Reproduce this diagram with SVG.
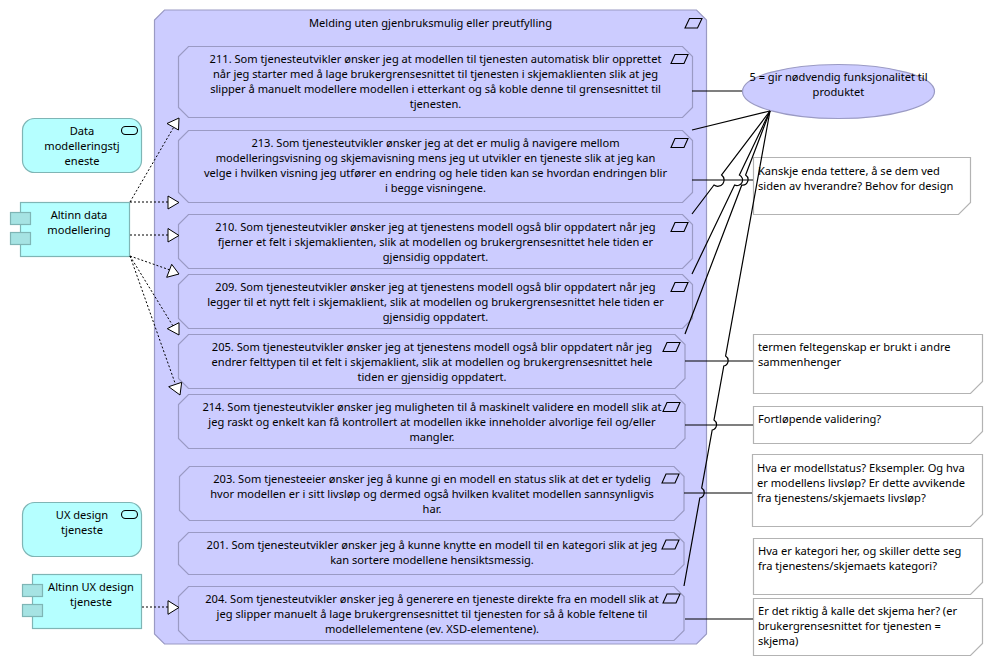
<svg xmlns="http://www.w3.org/2000/svg" width="993" height="666" viewBox="0 0 993 666">
<style>
text{font-family:"Noto Sans","Open Sans","Liberation Sans",sans-serif;font-size:11.1px;fill:#000;text-anchor:middle}
.l{text-anchor:start}
.c{fill:#ccccff;stroke:#9a9ac4;stroke-width:1.2}
.a{fill:#b5ffff;stroke:#7fb5b5;stroke-width:1.2}
.s{fill:#a6e3e3;stroke:#7fb5b5;stroke-width:1.2}
.n{fill:#fff;stroke:#b3b3b3;stroke-width:1.2}
.i{fill:none;stroke:#000;stroke-width:1.1}
.k{fill:none;stroke:#000;stroke-width:1.2}
.d{fill:none;stroke:#000;stroke-width:1;stroke-dasharray:2 2}
.t{fill:#fff;stroke:#000;stroke-width:1}
</style>
<g id="container"><path class="c" d="M164.500 10H696.500L706.500 20V634L696.500 644H164.500L154.500 634V20Z"/><path class="i" d="M685 28L689.500 18.500H702L697.500 28Z"/><text x="430.500" y="27">Melding uten gjenbruksmulig eller preutfylling</text></g>
<g id="n211"><path class="c" d="M188.500 46.500H682.500L692.500 56.500V107.500L682.500 117.500H188.500L178.500 107.500V56.500Z"/><path class="i" d="M671 63.500L675 54.500H688L684 63.500Z"/><text x="435.500" y="63">211. Som tjenesteutvikler ønsker jeg at modellen til tjenesten automatisk blir opprettet<tspan x="435.500" dy="15">når jeg starter med å lage brukergrensesnittet til tjenesten i skjemaklienten slik at jeg</tspan><tspan x="435.500" dy="15">slipper å manuelt modellere modellen i etterkant og så koble denne til grensesnittet til</tspan><tspan x="435.500" dy="15">tjenesten.</tspan></text></g>
<g id="n213"><path class="c" d="M188.500 130.500H682.500L692.500 140.500V192.500L682.500 202.500H188.500L178.500 192.500V140.500Z"/><path class="i" d="M671 147.500L675 138.500H688L684 147.500Z"/><text x="435.500" y="147">213. Som tjenesteutvikler ønsker jeg at det er mulig å navigere mellom<tspan x="435.500" dy="15">modelleringsvisning og skjemavisning mens jeg ut utvikler en tjeneste slik at jeg kan</tspan><tspan x="435.500" dy="15">velge i hvilken visning jeg utfører en endring og hele tiden kan se hvordan endringen blir</tspan><tspan x="435.500" dy="15">i begge visningene.</tspan></text></g>
<g id="n210"><path class="c" d="M188.500 214.500H682.500L692.500 224.500V258.500L682.500 268.500H188.500L178.500 258.500V224.500Z"/><path class="i" d="M671 231.500L675 222.500H688L684 231.500Z"/><text x="435.500" y="231">210. Som tjenesteutvikler ønsker jeg at tjenestens modell også blir oppdatert når jeg<tspan x="435.500" dy="15">fjerner et felt i skjemaklienten, slik at modellen og brukergrensesnittet hele tiden er</tspan><tspan x="435.500" dy="15">gjensidig oppdatert.</tspan></text></g>
<g id="n209"><path class="c" d="M188.500 274.500H682.500L692.500 284.500V318.500L682.500 328.500H188.500L178.500 318.500V284.500Z"/><path class="i" d="M671 291.500L675 282.500H688L684 291.500Z"/><text x="435.500" y="291">209. Som tjenesteutvikler ønsker jeg at tjenestens modell også blir oppdatert når jeg<tspan x="435.500" dy="15">legger til et nytt felt i skjemaklient, slik at modellen og brukergrensesnittet hele tiden er</tspan><tspan x="435.500" dy="15">gjensidig oppdatert.</tspan></text></g>
<g id="n205"><path class="c" d="M188.500 334.500H675L685 344.500V378.500L675 388.500H188.500L178.500 378.500V344.500Z"/><path class="i" d="M663 351.500L667 342.500H680L676 351.500Z"/><text x="432" y="351">205. Som tjenesteutvikler ønsker jeg at tjenestens modell også blir oppdatert når jeg<tspan x="432" dy="15">endrer felttypen til et felt i skjemaklient, slik at modellen og brukergrensesnittet hele</tspan><tspan x="432" dy="15">tiden er gjensidig oppdatert.</tspan></text></g>
<g id="n214"><path class="c" d="M188.500 394.500H675L685 404.500V438.500L675 448.500H188.500L178.500 438.500V404.500Z"/><path class="i" d="M663 411.500L667 402.500H680L676 411.500Z"/><text x="432" y="411">214. Som tjenesteutvikler ønsker jeg muligheten til å maskinelt validere en modell slik at<tspan x="432" dy="15">jeg raskt og enkelt kan få kontrollert at modellen ikke inneholder alvorlige feil og/eller</tspan><tspan x="432" dy="15">mangler.</tspan></text></g>
<g id="n203"><path class="c" d="M189.500 466.500H674L684 476.500V510.500L674 520.500H189.500L179.500 510.500V476.500Z"/><path class="i" d="M662 483L666 474H679L675 483Z"/><text x="432" y="483">203. Som tjenesteeier ønsker jeg å kunne gi en modell en status slik at det er tydelig<tspan x="432" dy="15">hvor modellen er i sitt livsløp og dermed også hvilken kvalitet modellen sannsynligvis</tspan><tspan x="432" dy="15">har.</tspan></text></g>
<g id="n201"><path class="c" d="M188.500 532.500H674L684 542.500V564.500L674 574.500H188.500L178.500 564.500V542.500Z"/><path class="i" d="M662 549L666 540H679L675 549Z"/><text x="432" y="549">201. Som tjenesteutvikler ønsker jeg å kunne knytte en modell til en kategori slik at jeg<tspan x="432" dy="15">kan sortere modellene hensiktsmessig.</tspan></text></g>
<g id="n204"><path class="c" d="M188.500 586.500H674L684 596.500V630.500L674 640.500H188.500L178.500 630.500V596.500Z"/><path class="i" d="M663 603L667 594H680L676 603Z"/><text x="432" y="603">204. Som tjenesteutvikler ønsker jeg å generere en tjeneste direkte fra en modell slik at<tspan x="432" dy="15">jeg slipper manuelt å lage brukergrensesnittet til tjenesten for så å koble feltene til</tspan><tspan x="432" dy="15">modellelementene (ev. XSD-elementene).</tspan></text></g>
<g id="svc1"><rect class="a" x="22.500" y="118.500" width="119" height="54" rx="12"/><rect class="i" x="121.500" y="126.500" width="16" height="8" rx="4"/><text x="82" y="135">Data<tspan x="82" dy="15">modelleringstj</tspan><tspan x="82" dy="15">eneste</tspan></text></g>
<g id="comp1"><rect class="a" x="20.500" y="202.500" width="109" height="54"/><rect class="s" x="10.500" y="212.500" width="20" height="12"/><rect class="s" x="10.500" y="232.500" width="20" height="12"/><text x="79" y="219">Altinn data<tspan x="79" dy="15">modellering</tspan></text></g>
<g id="svc2"><rect class="a" x="22.500" y="502.500" width="119" height="54" rx="12"/><rect class="i" x="121.500" y="510.500" width="16" height="8" rx="4"/><text x="82" y="519">UX design<tspan x="82" dy="15">tjeneste</tspan></text></g>
<g id="comp2"><rect class="a" x="32.500" y="574.500" width="109" height="54"/><rect class="s" x="22.500" y="584.500" width="20" height="12"/><rect class="s" x="22.500" y="604.500" width="20" height="12"/><text x="91" y="591">Altinn UX design<tspan x="91" dy="15">tjeneste</tspan></text></g>
<g id="value"><ellipse class="c" cx="838.500" cy="91.500" rx="96" ry="27"/><text x="838.500" y="81">5 = gir nødvendig funksjonalitet til<tspan x="838.500" dy="15">produktet</tspan></text></g>
<g id="note1"><path class="n" d="M753.500 157.500H970.500V202.500L958.500 214.500H753.500Z"/><text class="l" x="758" y="175">Kanskje enda tettere, å se dem ved<tspan x="758" dy="15">siden av hverandre? Behov for design</tspan></text></g>
<g id="note2"><path class="n" d="M753.500 334.500H982.500V381.500L970.500 393.500H753.500Z"/><text class="l" x="758" y="351">termen feltegenskap er brukt i andre<tspan x="758" dy="15">sammenhenger</tspan></text></g>
<g id="note3"><path class="n" d="M753.500 406.500H982.500V431.500L970.500 443.500H753.500Z"/><text class="l" x="758" y="423">Fortløpende validering?</text></g>
<g id="note4"><path class="n" d="M752.500 454.500H982.500V514.500L970.500 526.500H752.500Z"/><text class="l" x="757" y="472">Hva er modellstatus? Eksempler. Og hva<tspan x="757" dy="15">er modellens livsløp? Er dette avvikende</tspan><tspan x="757" dy="15">fra tjenestens/skjemaets livsløp?</tspan></text></g>
<g id="note5"><path class="n" d="M753.500 538.500H982.500V582.500L970.500 594.500H753.500Z"/><text class="l" x="758" y="555">Hva er kategori her, og skiller dette seg<tspan x="758" dy="15">fra tjenestens/skjemaets kategori?</tspan></text></g>
<g id="note6"><path class="n" d="M753.500 598.500H982.500V643.500L970.500 655.500H753.500Z"/><text class="l" x="758" y="615">Er det riktig å kalle det skjema her? (er<tspan x="758" dy="15">brukergrensesnittet for tjenesten =</tspan><tspan x="758" dy="15">skjema)</tspan></text></g>
<g id="connectors">
<path class="k" d="M692 91H742"/>
<path class="k" d="M692 130L770 111"/>
<path class="k" d="M692 180H753"/>
<path class="k" d="M692 214L714 185A5.500 5.500 0 0 0 721.600 175L770 111"/>
<path class="k" d="M692 274L734.600 185A5.500 5.500 0 0 0 739.400 175L770 111"/>
<path class="k" d="M685 334L741.800 185A5.500 5.500 0 0 0 745.600 175L770 111"/>
<path class="k" d="M684 586L699.800 498A5.500 5.500 0 0 0 701.700 488L712.200 430A5.500 5.500 0 0 0 714 420L723.800 366A5.500 5.500 0 0 0 725.600 356L770 111"/>
<path class="k" d="M685 361H753"/>
<path class="k" d="M685 425H753"/>
<path class="k" d="M684 493H752"/>
<path class="k" d="M685 619H753"/>
<path class="d" d="M130 202L175 125"/>
<path class="d" d="M130 202H168"/>
<path class="d" d="M130 235H168"/>
<path class="d" d="M130 256L170 270"/>
<path class="d" d="M130 256L173 326"/>
<path class="d" d="M130 256L175 383"/>
<path class="d" d="M142 607H168"/>
<path class="t" d="M179 118L167 123.500L178.500 130Z"/>
<path class="t" d="M168 196V209L179 202.500Z"/>
<path class="t" d="M168 228.500V242L179 235.500Z"/>
<path class="t" d="M179 274L171.700 264.300L166.700 277.300Z"/>
<path class="t" d="M179 335L167.300 328.700L179 322.700Z"/>
<path class="t" d="M180 395L168.700 386.700L181.700 382.300Z"/>
<path class="t" d="M168 600.700V614.300L179 607.500Z"/>
</g>
</svg>
